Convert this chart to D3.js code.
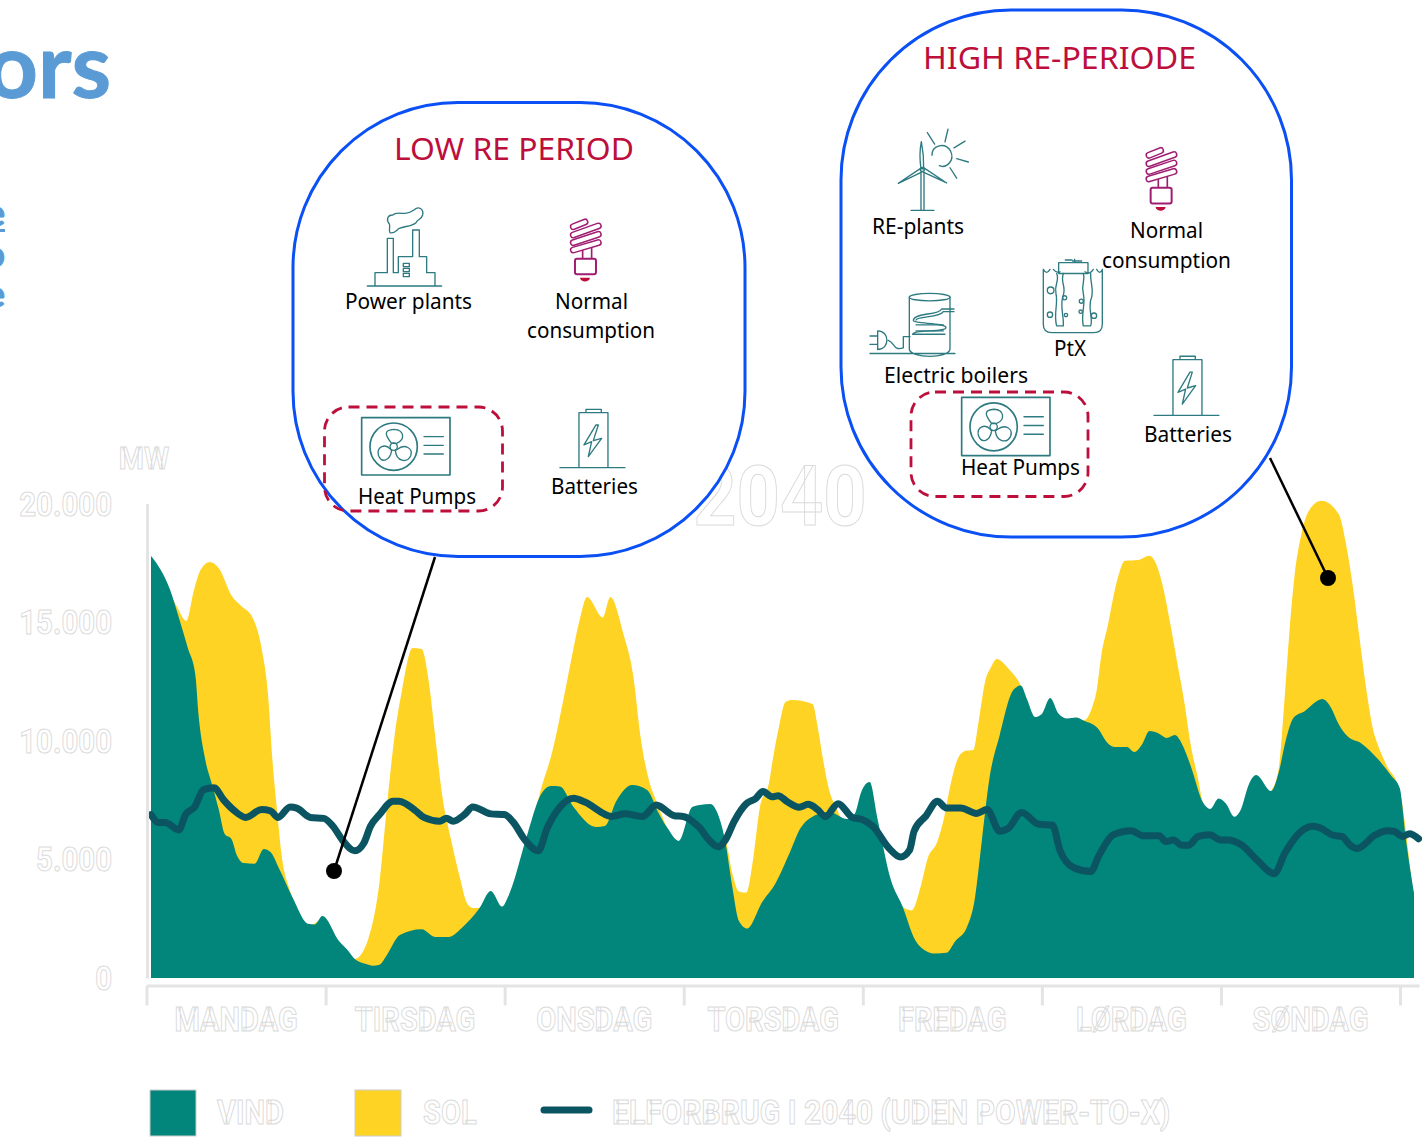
<!DOCTYPE html>
<html>
<head>
<meta charset="utf-8">
<script src="https://cdn.jsdelivr.net/npm/d3@7"></script>
<style>
html,body{margin:0;padding:0;background:#fff;overflow:hidden}
svg{display:block}
.ghost{fill:#fff;stroke:#dadada;stroke-width:1;font-family:Roboto,sans-serif;font-weight:700}
.cap{fill:#000;font-family:"Noto Sans",sans-serif}
.head{fill:#bd0f3c;font-family:"Noto Sans",sans-serif}
.ico{fill:none;stroke:#2d7a80;stroke-width:4;stroke-linejoin:round;stroke-linecap:round}
.title{fill:#5b9bd5;stroke:#5b9bd5;stroke-width:1;font-family:Lato,sans-serif;font-weight:700}
</style>
</head>
<body>
<svg id="chart" width="1422" height="1138"></svg>
<script>
// Weekly power balance, hours from Monday 00:00. Values in MW.
const dayLabels = ["MANDAG","TIRSDAG","ONSDAG","TORSDAG","FREDAG","LØRDAG","SØNDAG"];
const yTicks = [0,5000,10000,15000,20000];
const legendLabels = ["VIND","SOL","ELFORBRUG I 2040 (UDEN POWER-TO-X)"];

const windHours = [0,1.3,2.5,3.7,4.9,5.9,6.3,7.2,8.1,9,9.8,10.7,11.4,12.3,13.8,15,15.9,17,18.8,20.9,21.8,22.8,25,26.2,27.1,28.6,29.5,30.4,31.3,33.1,36,37.8,39.6,41.4,43.7,45.2,46.7,47.6,50,51.7,53.2,54.4,56.2,59.2,60.4,61.9,64,66,67.5,68.7,70.2,72,73,74.4,75.5,76.4,77.3,78.2,79.3,81.3,83.1,85,86.4,87.7,90.2,92.6,93.6,94.5,95.6,96.6,98.4,100,101.5,103.1,104.3,105.8,107,108.5,109.6,110.5,111.5,112.9,114.7,115.7,116.5,117.6,118.5,119.6,120.7,121.9,123,124.2,125.9,127.3,128.2,129.8,130.8,131.9,132.8,134.1,135.1,136.2,137.1,138.3,139.9,140.9,142,143,144.1,145,146,147,149,150,150.9,152,153.4,155.8,156.9,158,159.2,161,163.2,165,166.1,166.9,168];
const windValues = [17790,17200,16400,15200,13910,12770,11170,9230,8180,7120,6070,5860,5190,4850,4820,5440,5310,4640,3420,2290,2260,2610,1560,1160,800,590,520,560,930,1810,2050,1730,1730,2130,2950,3670,3010,3500,5990,7630,8090,8070,7210,6370,6410,7460,8140,7930,6970,6320,5780,7210,7290,7340,6830,5730,3880,2400,2080,3200,4010,5310,6320,6750,7000,6700,6910,7860,8260,6770,4150,2990,1690,1140,1030,1060,1560,2120,3370,5750,8360,10240,12140,12330,11770,11000,11130,11800,11150,10940,10980,10830,10540,9890,9740,9740,9530,9890,10410,10300,10120,10240,9890,8940,7420,7130,7570,7350,6800,7130,8140,8560,7880,8660,9960,10980,11240,11760,11430,10690,10180,9890,9230,8520,8010,5900,3580];

// Top edge of wind and solar together. Where there is no sun it stays under the wind layer.
const totalHours = [0,3.4,4.7,5.7,6.6,7.8,9,10.8,12,13.5,14.7,15.6,16.1,16.8,17.3,18.5,19.5,21,23,25,27.1,28.9,30.4,31.5,32.4,33.4,34.8,36,36.9,37.8,38.7,39.9,41.1,42,42.8,43.7,46,49.5,51.7,53.5,54.7,55.9,57.1,58,60.1,61.1,62.8,64.2,65.1,66.3,67.2,68.7,70,76.4,77.3,78.2,79.2,80.1,81,82.2,82.8,83.5,84.4,85.3,88,88.7,89.3,90.2,91.1,92,95,98,100,101.2,102.4,103.3,104.6,105.5,106.4,107.3,108.3,109.4,110.1,111,111.7,112.5,114.1,115.3,115.7,116.5,117.6,123,124.2,125.2,125.8,126.4,127.3,128.2,128.8,129.5,131.3,132.8,133.7,134.6,135.6,136.5,137.4,138.3,139.3,139.9,141,144,149,150,150.4,150.9,151.4,152.1,153,154,155.7,158,158.9,159.8,160.7,161.6,162.6,163.2,164.4,166,168];
const totalValues = [17790,15680,15050,16330,17210,17540,17290,16080,15680,15200,13910,11800,9400,6970,5350,3670,2900,2200,2500,1500,800,1640,4060,7630,10200,12140,13910,13870,12600,10200,7770,5840,4220,3180,2950,2950,2800,5000,7770,9710,11490,13420,15200,16060,15200,16060,14540,12620,10200,8260,7460,6300,5500,5730,4440,3650,3600,5030,7210,8220,9380,10540,11640,11720,11550,10540,9380,7930,7210,6700,6500,4000,2990,2850,3880,5030,5750,6770,8220,9230,9570,9610,10830,12560,13080,13450,13030,12560,12330,11700,10900,10800,10870,11430,12140,13590,14900,16350,17080,17580,17620,17800,17450,16490,14900,13300,11720,9820,8360,7420,7000,6500,7880,8810,10120,12290,14460,16930,18680,19690,20120,19550,18380,16650,14460,12290,10410,9820,8940,8000,3000];

const loadHours = [0,1,1.9,3.7,4.6,5.8,7,8.4,9.6,11.1,12.6,14.7,15.9,16.9,18.5,19.4,21.2,23,24.2,25.6,27.1,28.3,29.2,30.4,32.2,33,35.2,36.3,38.4,39.3,40.2,41.7,42.8,45.2,47,48.2,49.7,51.5,52.7,54.2,56.2,57.7,61.3,63,65.4,67.2,69.6,70.8,72.5,73,74,75.5,76.4,77.6,79.2,80.4,81.4,82.6,83.4,84.7,86.2,87.4,88.7,89.7,91.4,93.3,94.5,96,98.2,99.7,100.9,101.5,103.1,104.6,105.8,107.7,109.8,111.2,112.9,114,115.8,118.1,119.9,120.9,122.7,125,126.1,128,130.4,131.9,134.1,135,136,137.1,138,139.3,140.8,142.3,143.2,145.1,147.2,149.4,150.9,153,154.6,155.5,157.3,158.4,159.5,160.4,162.9,164.4,165.3,166.5,167.4,168.6];
const loadValues = [6890,6560,6560,6240,6890,7210,7940,8020,7530,7050,6770,7100,7050,6770,7210,7160,6770,6730,6400,5760,5360,5680,6400,6890,7450,7450,7050,6770,6610,6730,6610,6890,7210,6920,6890,6560,5840,5360,6320,7130,7580,7420,6810,6920,6810,7290,6840,6810,6480,6330,5900,5530,5820,6620,7350,7560,7860,7640,7680,7420,7200,7320,7090,6800,7350,6770,6690,6400,5460,5100,5390,6190,6840,7450,7170,7170,6940,7100,6190,6300,6980,6480,6450,5390,4660,4490,5170,6040,6210,6000,6000,5750,5820,5600,5600,5970,6040,5820,5820,5600,4950,4400,5310,6190,6400,6330,6010,5970,5600,5460,6040,6210,6190,5970,6080,5870];

const svg = d3.select("#chart");
const x = d3.scaleLinear().domain([0,168]).range([151,1414]);
const y = d3.scaleLinear().domain([0,20000]).range([978,503.6]);
const days = d3.scaleLinear().domain([0,7.106]).range([146.5,1419]);

const TEAL="#02857a", SUN="#ffd324", LOAD="#0b5563", BLUE="#0a50f5", RED="#bd0f3c";

// Outlined label, condensed horizontally to a target share of its natural width.
function ghost(sel, text, px, py, size, k, anchor){
  const t = sel.append("text").attr("class","ghost").attr("x",px).attr("y",py)
    .attr("font-size",size).attr("text-anchor",anchor||"middle").text(text);
  const w = t.node().getComputedTextLength();
  t.attr("textLength",w*k).attr("lengthAdjust","spacingAndGlyphs");
  return t;
}
// Black or coloured caption fitted to a given width.
function cap(sel, text, px, py, w, size, cls){
  return sel.append("text").attr("class",cls||"cap").attr("x",px).attr("y",py)
    .attr("font-size",size).attr("textLength",w).attr("lengthAdjust","spacingAndGlyphs").text(text);
}

// Heading fragments running off the left edge of the slide
svg.append("text").attr("class","title").attr("x",111).attr("y",98).attr("font-size",90).attr("text-anchor","end").text("ors");
[["e",226,true],["o",267,false],["e",307,false]].forEach(([s,py,u])=>{
  svg.append("text").attr("class","title").attr("x",5).attr("y",py).attr("font-size",36)
    .attr("text-anchor","end").text(s);
  if(u) svg.append("rect").attr("x",0).attr("y",py+3).attr("width",5).attr("height",3).attr("fill","#5b9bd5");
});

// Year stamp behind the chart
ghost(svg,"2040",780,525,84,0.9);

// Areas
const area = (hours)=>d3.area().curve(d3.curveMonotoneX).x((d,i)=>x(hours[i])).y0(y(0)).y1(d=>y(d));
svg.append("path").datum(totalValues).attr("fill",SUN).attr("d",area(totalHours));
svg.append("path").datum(windValues).attr("fill",TEAL).attr("d",area(windHours));
svg.append("path").datum(loadValues).attr("fill","none").attr("stroke",LOAD).attr("stroke-width",7)
  .attr("stroke-linejoin","round").attr("stroke-linecap","round")
  .attr("d",d3.line().curve(d3.curveMonotoneX).x((d,i)=>x(loadHours[i])).y(d=>y(d)));

// Axes
const thousands = d3.formatLocale({decimal:",",thousands:".",grouping:[3],currency:["",""]}).format(",");
const yAxisG = svg.append("g").attr("transform","translate(147,0)")
  .call(d3.axisLeft(y).tickValues(yTicks).tickSize(0).tickFormat(""));
yAxisG.select(".domain").attr("stroke","#e4e4e4").attr("stroke-width",3);
yTicks.forEach(v=>ghost(svg,thousands(v),112,y(v)+12,33,0.89,"end"));
ghost(svg,"MW",144,469,32,0.9);

const xAxisG = svg.append("g").attr("transform","translate(0,985.5)")
  .call(d3.axisBottom(days).tickValues(d3.range(8)).tickSize(20).tickSizeOuter(0).tickFormat(""));
xAxisG.select(".domain").attr("stroke","#e4e4e4").attr("stroke-width",3);
xAxisG.selectAll(".tick line").attr("stroke","#e4e4e4").attr("stroke-width",3);
dayLabels.forEach((d,i)=>ghost(svg,d,days(i+0.5),1031,33,0.88));

// Legend
svg.append("rect").attr("x",150).attr("y",1090).attr("width",46).attr("height",46).attr("fill",TEAL).attr("stroke","#ccc").attr("stroke-width",1);
svg.append("rect").attr("x",355).attr("y",1090).attr("width",46).attr("height",46).attr("fill",SUN).attr("stroke","#ccc").attr("stroke-width",1);
svg.append("line").attr("x1",544).attr("x2",589).attr("y1",1110).attr("y2",1110).attr("stroke",LOAD).attr("stroke-width",7).attr("stroke-linecap","round");
ghost(svg,legendLabels[0],217,1124,33,0.88,"start");
ghost(svg,legendLabels[1],423,1124,33,0.88,"start");
ghost(svg,legendLabels[2],612,1124,33,0.91,"start");

// Callout bubbles and their leaders
const bubble=(bx,by,w,h,r)=>svg.append("rect").attr("x",bx).attr("y",by).attr("width",w).attr("height",h)
  .attr("rx",r).attr("ry",r).attr("fill","#fff").attr("stroke",BLUE).attr("stroke-width",3);
bubble(293,102.5,452,454,165);
bubble(841,10,450.5,527,170);
svg.append("line").attr("x1",435).attr("y1",557).attr("x2",334).attr("y2",871).attr("stroke","#000").attr("stroke-width",2.5);
svg.append("circle").attr("cx",334).attr("cy",871).attr("r",8).attr("fill","#000");
svg.append("line").attr("x1",1270).attr("y1",458).attr("x2",1328).attr("y2",578).attr("stroke","#000").attr("stroke-width",2.5);
svg.append("circle").attr("cx",1328).attr("cy",578).attr("r",8).attr("fill","#000");

// Icon drawing, in a 3x working grid
const dashBox=(bx,by,w,h)=>svg.append("rect").attr("x",bx).attr("y",by).attr("width",w).attr("height",h)
  .attr("rx",24).attr("fill","none").attr("stroke",RED).attr("stroke-width",2.8).attr("stroke-dasharray","11 7");
const lowG = svg.append("g").attr("transform","translate(290,100) scale(0.3333)");
const highG = svg.append("g").attr("transform","translate(840,10) scale(0.3333,0.3378)");
const pathIn=(g,d,cls)=>g.append("path").attr("class",cls||"ico").attr("d",d);

function heatPump(g,dx,dy){
  const p=g.append("g").attr("transform",`translate(${dx},${dy})`);
  pathIn(p,"M215,953H480V1125H215Z").style("stroke-width",5);
  p.append("circle").attr("class","ico").attr("cx",311).attr("cy",1040).attr("r",71).style("stroke-width",5);
  p.append("circle").attr("class","ico").attr("cx",311).attr("cy",1040).attr("r",11);
  pathIn(p,"M305,1030C285,1005 280,990 312,988C345,990 345,1020 320,1030Z");
  pathIn(p,"M301,1047C285,1030 260,1040 265,1065C275,1092 300,1082 305,1052Z");
  pathIn(p,"M322,1048C345,1030 370,1045 362,1068C350,1090 320,1085 316,1052Z");
  pathIn(p,"M402,1010H460M402,1036H460M402,1062H460");
}
function battery(g,dx,dy){
  const p=g.append("g").attr("transform",`translate(${dx},${dy})`);
  pathIn(p,"M810,1103H1005M867,1103V938H954V1103M888,938V928H934V938");
  pathIn(p,"M918,975L882,1035L905,1025L895,1070L935,1015L910,1022L925,975Z");
}
function bulb(g,dx,dy){
  const p=g.append("g").attr("transform",`translate(${dx},${dy})`);
  const coil=[[850,380,885,366],[850,405,925,378],[850,428,925,403],[850,450,925,428]];
  coil.forEach(c=>p.append("line").attr("x1",c[0]).attr("y1",c[1]).attr("x2",c[2]).attr("y2",c[3])
    .attr("stroke","#a01e72").attr("stroke-width",21).attr("stroke-linecap","round"));
  coil.forEach(c=>p.append("line").attr("x1",c[0]).attr("y1",c[1]).attr("x2",c[2]).attr("y2",c[3])
    .attr("stroke","#fff").attr("stroke-width",12).attr("stroke-linecap","round"));
  p.append("path").attr("d","M878,450V476M905,442V476").attr("stroke","#a01e72").attr("stroke-width",5).attr("fill","none");
  p.append("rect").attr("x",855).attr("y",476).attr("width",63).attr("height",47).attr("rx",6)
    .attr("fill","#fff").attr("stroke","#a01e72").attr("stroke-width",6);
  p.append("path").attr("d","M870,533H900C898,548 872,548 870,533Z").attr("fill","#bd0f3c");
}

// Low-renewables bubble
cap(svg,"LOW RE PERIOD",394,159.5,240,31,"head");
pathIn(lowG,"M232,558H455M255,558V518H292V415H310V518H325V470H368V390H388V470H410V518H435V558");
pathIn(lowG,"M298,372C288,360 292,345 308,345C318,335 335,342 345,340C358,340 365,335 372,330C385,318 402,325 398,345C395,358 382,358 378,368C365,380 345,378 328,385C318,392 312,402 300,398C295,390 302,380 298,372Z");
pathIn(lowG,"M340,490H358V500H340ZM340,505H358V515H340ZM340,520H358V530H340Z");
bulb(lowG,0,0);
heatPump(lowG,0,0);
battery(lowG,0,0);
cap(svg,"Power plants",345,309,127,21.5);
cap(svg,"Normal",555,309,73,21.5);
cap(svg,"consumption",527,338,128,21.5);
cap(svg,"Heat Pumps",358,504,118,21.5);
cap(svg,"Batteries",551,494,87,21.5);
dashBox(324.5,407,178,104);

// High-renewables bubble
cap(svg,"HIGH RE-PERIODE",923,69,273,31,"head");
pathIn(highG,"M213,593H282M243,593V480M252,593V480M244,390C238,420 240,450 243,470L251,470C252,440 248,410 244,390Z");
pathIn(highG,"M243,468L175,513L245,480M253,468L320,512L250,480");
highG.append("circle").attr("class","ico").attr("cx",247).attr("cy",472).attr("r",6);
pathIn(highG,"M276,430C276,400 315,390 332,418C345,445 320,470 298,461");
pathIn(highG,"M262,363L284,397M324,353L315,390M375,388L342,408M385,450L350,440M350,498L330,467");
bulb(highG,77,50);
// boiler
pathIn(highG,"M90,1017H345M208,1005V850M330,1005V850M208,1005C215,1032 325,1032 330,1005");
highG.append("ellipse").attr("class","ico").attr("cx",269).attr("cy",850).attr("rx",61).attr("ry",11);
pathIn(highG,"M342,885H305C295,905 225,895 220,918C218,930 315,925 318,940C318,955 220,945 218,960H315");
pathIn(highG,"M342,893H310C300,912 232,905 228,918M228,932H310M228,950H310");
pathIn(highG,"M90,965H113M90,990H113M113,950V1005C150,1005 150,950 113,950M145,978C165,985 160,1010 190,1000V967H210");
// electrolyser
pathIn(highG,"M610,768V930Q610,955 635,955H762Q787,955 787,930V768M610,768Q620,785 630,768M640,768Q650,780 660,775M735,775Q750,785 760,768M770,768Q780,785 787,768");
pathIn(highG,"M656,748H744V780H656ZM676,740H696M704,748V738M698,743H725");
pathIn(highG,"M670,780C660,810 682,820 668,850C660,880 672,905 670,935H650C640,900 655,870 648,840C642,810 660,800 650,780");
pathIn(highG,"M752,780C750,810 765,830 752,860C745,890 760,915 752,935H730C722,900 738,870 730,840C722,810 738,800 730,780");
[[632,830,10],[674,852,6],[630,902,8],[678,903,5],[724,862,6],[722,893,5],[762,905,8]].forEach(c=>
  highG.append("circle").attr("class","ico").attr("cx",c[0]).attr("cy",c[1]).attr("r",c[2]));
heatPump(highG,150,194);
battery(highG,132,97);
cap(svg,"RE-plants",872,234,92,21.5);
cap(svg,"Normal",1130,238,73,21.5);
cap(svg,"consumption",1102,268,129,21.5);
cap(svg,"PtX",1054,356,32,21.5);
cap(svg,"Electric boilers",884,383,144,21.5);
cap(svg,"Heat Pumps",961,475,119,21.5);
cap(svg,"Batteries",1144,442,88,21.5);
dashBox(911,392,177,104.5);
</script>
</body>
</html>
